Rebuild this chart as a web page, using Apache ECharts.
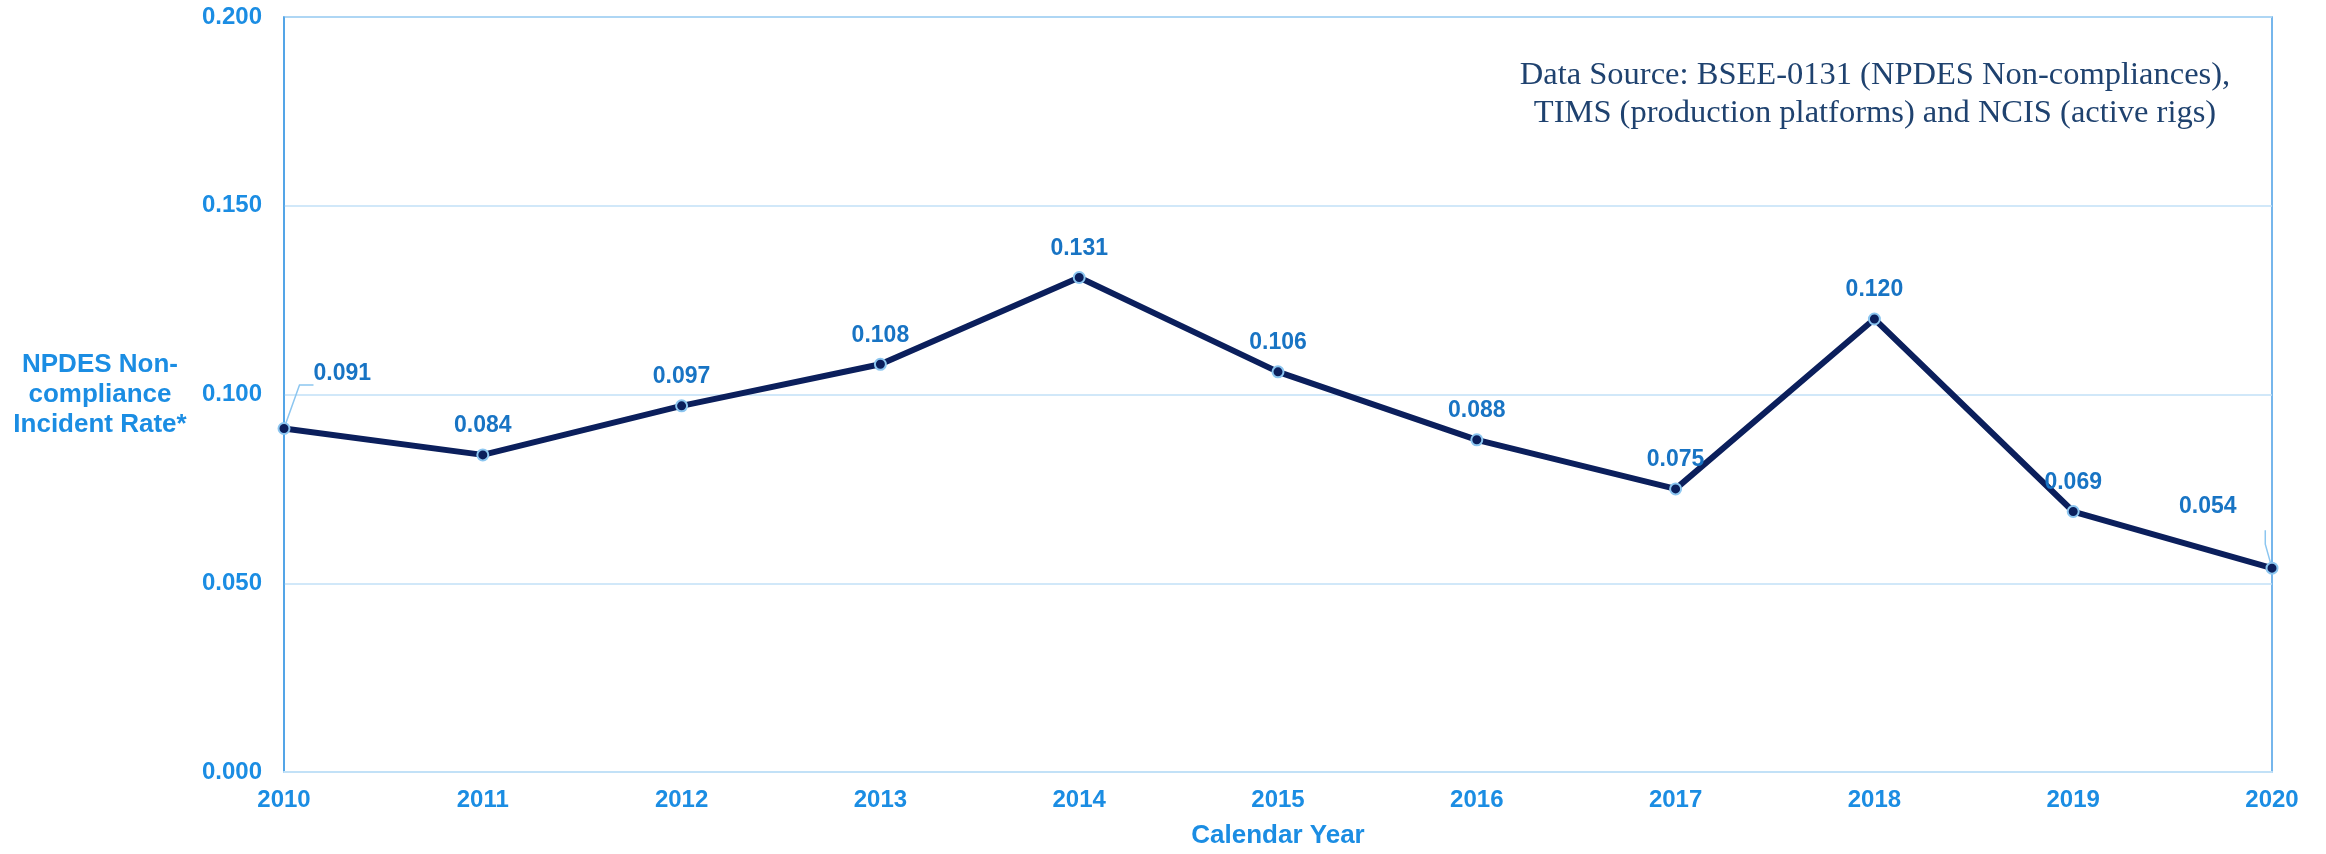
<!DOCTYPE html>
<html>
<head>
<meta charset="utf-8">
<script src="https://cdn.jsdelivr.net/npm/echarts@6/dist/echarts.min.js"></script>
<style>
html,body{margin:0;padding:0;background:#fff}
#chart{width:2326px;height:854px}
</style>
</head>
<body>
<div id="chart"></div>
<script>
// data
let years=['2010','2011','2012','2013','2014','2015','2016','2017','2018','2019','2020']
let rates=[0.091,0.084,0.097,0.108,0.131,0.106,0.088,0.075,0.120,0.069,0.054]

let tickBlue='#1b8de3'
let labelBlue='#1874c4'
let navy='#0b1f5c'

let points=rates.map(function(v,i){
    let p={value:v}
    if(i==0){
        p.label={position:'right',offset:[12,-55]}
        p.labelLine={show:true,length2:14}
    }
    if(i==rates.length-1){
        p.label={position:'left',offset:[-18,-61]}
        p.labelLine={show:true,length2:14}
    }
    return p
})

var myChart=echarts.init(document.getElementById('chart'))
var option={
    animation:false,
    title:{
        text:'Data Source: BSEE-0131 (NPDES Non-compliances),\nTIMS (production platforms) and NCIS (active rigs)',
        left:1870,
        top:51,
        textAlign:'center',
        textStyle:{
            fontFamily:'Liberation Serif',
            fontWeight:'normal',
            fontSize:32.5,
            lineHeight:38,
            color:'#1f426f'
        }
    },
    grid:{
        left:284,
        right:54,
        top:17,
        bottom:78,
        show:true,
        borderColor:'#4a9fe6',
        borderWidth:1.5
    },
    xAxis:{
        type:'category',
        data:years,
        boundaryGap:false,
        name:'Calendar Year',
        nameLocation:'middle',
        nameGap:64,
        nameTextStyle:{
            color:tickBlue,
            fontFamily:'Liberation Sans',
            fontWeight:'bold',
            fontSize:26,
            verticalAlign:'middle'
        },
        axisLine:{lineStyle:{color:'#c2e1f7',width:2}},
        axisTick:{show:false},
        axisLabel:{
            color:tickBlue,
            fontFamily:'Liberation Sans',
            fontWeight:'bold',
            fontSize:24,
            margin:16
        },
        splitLine:{show:false}
    },
    yAxis:{
        type:'value',
        min:0,
        max:0.2,
        interval:0.05,
        name:'NPDES Non-\ncompliance\nIncident Rate*',
        nameLocation:'middle',
        nameRotate:0,
        nameGap:184,
        nameTextStyle:{
            color:tickBlue,
            fontFamily:'Liberation Sans',
            fontWeight:'bold',
            fontSize:26,
            lineHeight:30,
            align:'center',
            verticalAlign:'middle',
            padding:[6,0,0,0]
        },
        axisLine:{show:true,lineStyle:{color:'#4a9fe6',width:1.5}},
        axisTick:{show:false},
        axisLabel:{
            color:tickBlue,
            fontFamily:'Liberation Sans',
            fontWeight:'bold',
            fontSize:24,
            margin:22,
            formatter:function(v){return v.toFixed(3)}
        },
        splitLine:{lineStyle:{color:'#c2e1f7',width:1.5}}
    },
    series:[{
        type:'line',
        data:points,
        symbol:'circle',
        symbolSize:11,
        lineStyle:{color:navy,width:6},
        itemStyle:{color:navy,borderColor:'#8cc6f0',borderWidth:2},
        label:{
            show:true,
            position:'top',
            distance:11,
            color:labelBlue,
            fontFamily:'Liberation Sans',
            fontWeight:'bold',
            fontSize:23,
            formatter:function(p){return p.value.toFixed(3)}
        },
        labelLine:{
            lineStyle:{color:'#8cc6f0',width:1.5}
        }
    }]
}
myChart.setOption(option)
</script>
</body>
</html>
